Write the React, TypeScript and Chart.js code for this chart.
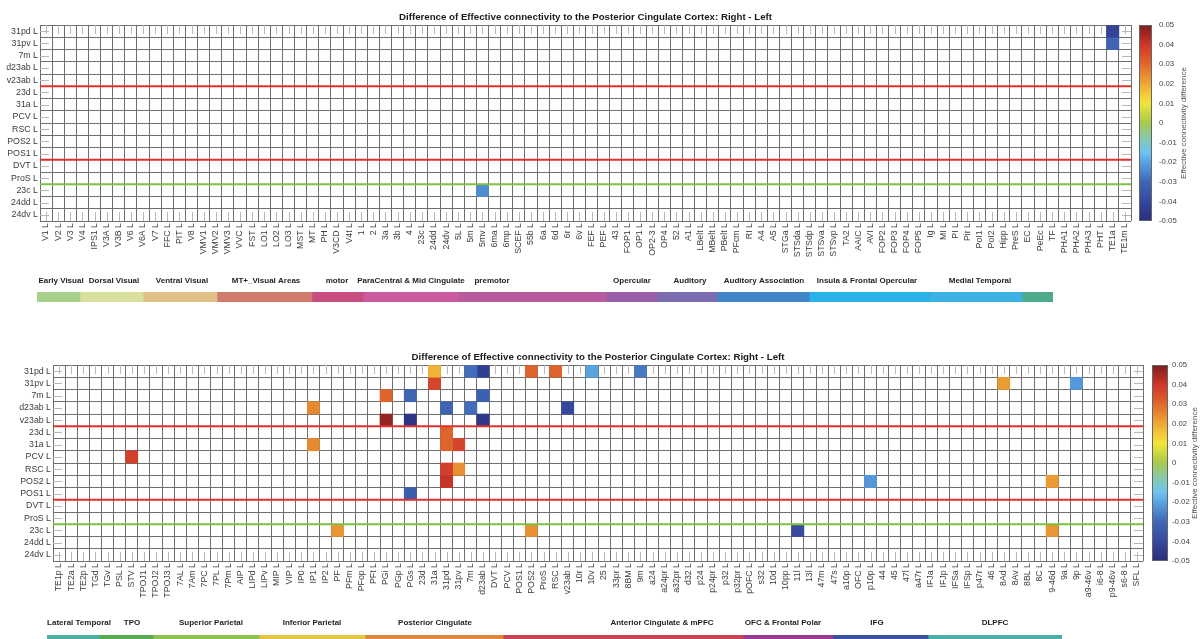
import React, { useEffect, useRef } from 'react';
import { Chart, registerables } from 'chart.js';

Chart.register(...registerables);

const FONT = '"Liberation Sans", Arial, Helvetica, sans-serif';

// ---------- data ----------
const rowRegions = ['31pd', '31pv', '7m', 'd23ab', 'v23ab', '23d', '31a', 'PCV', 'RSC', 'POS2', 'POS1', 'DVT', 'ProS', '23c', '24dd', '24dv'];

const topRegions = [
  'V1', 'V2', 'V3', 'V4', 'IPS1', 'V3A', 'V3B', 'V6', 'V6A', 'V7',
  'FFC', 'PIT', 'V8', 'VMV1', 'VMV2', 'VMV3', 'VVC', 'FST', 'LO1', 'LO2',
  'LO3', 'MST', 'MT', 'PH', 'V3CD', 'V4t', '1', '2', '3a', '3b',
  '4', '23c', '24dd', '24dv', '5L', '5m', '5mv', '6ma', '6mp', 'SCEF',
  '55b', '6a', '6d', '6r', '6v', 'FEF', 'PEF', '43', 'FOP1', 'OP1',
  'OP2-3', 'OP4', '52', 'A1', 'LBelt', 'MBelt', 'PBelt', 'PFcm', 'RI', 'A4',
  'A5', 'STGa', 'STSda', 'STSdp', 'STSva', 'STSvp', 'TA2', 'AAIC', 'AVI', 'FOP2',
  'FOP3', 'FOP4', 'FOP5', 'Ig', 'MI', 'PI', 'Pir', 'PoI1', 'PoI2', 'Hipp',
  'PreS', 'EC', 'PeEc', 'TF', 'PHA1', 'PHA2', 'PHA3', 'PHT', 'TE1a', 'TE1m',
];

const bottomRegions = [
  'TE1p', 'TE2a', 'TE2p', 'TGd', 'TGv', 'PSL', 'STV', 'TPOJ1', 'TPOJ2', 'TPOJ3',
  '7AL', '7Am', '7PC', '7PL', '7Pm', 'AIP', 'LIPd', 'LIPv', 'MIP', 'VIP',
  'IP0', 'IP1', 'IP2', 'PF', 'PFm', 'PFop', 'PFt', 'PGi', 'PGp', 'PGs',
  '23d', '31a', '31pd', '31pv', '7m', 'd23ab', 'DVT', 'PCV', 'POS1', 'POS2',
  'ProS', 'RSC', 'v23ab', '10r', '10v', '25', '33pr', '8BM', '9m', 'a24',
  'a24pr', 'a32pr', 'd32', 'p24', 'p24pr', 'p32', 'p32pr', 'pOFC', 's32', '10d',
  '10pp', '11l', '13l', '47m', '47s', 'a10p', 'OFC', 'p10p', '44', '45',
  '47l', 'a47r', 'IFJa', 'IFJp', 'IFSa', 'IFSp', 'p47r', '46', '8Ad', '8Av',
  '8BL', '8C', '9-46d', '9a', '9p', 'a9-46v', 'i6-8', 'p9-46v', 's6-8', 'SFL',
];

// [column region, row region, value]
const topCells: [string, string, number][] = [
  ['5mv', '23c', -0.024],
  ['TE1a', '31pd', -0.042],
  ['TE1a', '31pv', -0.031],
];

const bottomCells: [string, string, number][] = [
  ['STV', 'PCV', 0.038],
  ['IP1', 'd23ab', 0.025],
  ['IP1', '31a', 0.025],
  ['PF', '23c', 0.023],
  ['PGi', '7m', 0.031],
  ['PGi', 'v23ab', 0.047],
  ['PGs', '7m', -0.031],
  ['PGs', 'v23ab', -0.047],
  ['PGs', 'POS1', -0.033],
  ['31a', '31pd', 0.018],
  ['31a', '31pv', 0.037],
  ['31pd', 'd23ab', -0.031],
  ['31pd', '23d', 0.031],
  ['31pd', '31a', 0.031],
  ['31pd', 'RSC', 0.038],
  ['31pd', 'POS2', 0.041],
  ['31pv', '31a', 0.037],
  ['31pv', 'RSC', 0.024],
  ['7m', '31pd', -0.029],
  ['7m', 'd23ab', -0.029],
  ['d23ab', '31pd', -0.043],
  ['d23ab', '7m', -0.032],
  ['d23ab', 'v23ab', -0.046],
  ['POS2', '31pd', 0.031],
  ['POS2', '23c', 0.024],
  ['RSC', '31pd', 0.031],
  ['v23ab', 'd23ab', -0.040],
  ['10v', '31pd', -0.020],
  ['9m', '31pd', -0.027],
  ['8Ad', '31pv', 0.022],
  ['9p', '31pv', -0.022],
  ['p10p', 'POS2', -0.022],
  ['9-46d', 'POS2', 0.022],
  ['9-46d', '23c', 0.023],
  ['11l', '23c', -0.039],
];

const redDividerAfterRows = ['v23ab', 'POS1'];
const greenDividerAfterRows = ['ProS'];

const cbMin = -0.05;
const cbMax = 0.05;
const cbStep = 0.01;
const colorStops: [number, string][] = [
  [-0.05, '#2a2d7d'],
  [-0.04, '#36489d'],
  [-0.03, '#3f67b5'],
  [-0.02, '#5aa3e3'],
  [-0.015, '#6ec3ef'],
  [-0.01, '#7ec9c3'],
  [-0.005, '#92c98f'],
  [0, '#a7c94c'],
  [0.005, '#cbd83f'],
  [0.01, '#f2e53b'],
  [0.015, '#f4c73a'],
  [0.02, '#eea835'],
  [0.03, '#e0692d'],
  [0.04, '#cf3529'],
  [0.05, '#7b1e1f'],
];

const topGroups = ['Early Visual', 'Dorsal Visual', 'Ventral Visual', 'MT+_Visual Areas', 'motor', 'ParaCentral & Mid Cingulate', 'premotor', 'Opercular', 'Auditory', 'Auditory Association', 'Insula & Frontal Opercular', 'Medial Temporal', ''];
const topGroupWidths = [43, 63, 74, 95, 51, 95, 148, 51, 60, 92, 121, 92, 31];
const topGroupLabelPos = [24, 77, 145, 229, 300, 374, 455, 595, 653, 727, 830, 943, 1000];
const topGroupColors = ['#a8d08d', '#d9df9c', '#e0c089', '#d07b6c', '#c94d7f', '#cd5a9f', '#b95a9f', '#9a5ea9', '#7c6cb1', '#3f84c6', '#2ab0ea', '#3bb2e3', '#4dab8c'];

const bottomGroups = ['Lateral Temporal', 'TPO', 'Superior Parietal', 'Inferior Parietal', 'Posterior Cingulate', 'Anterior Cingulate & mPFC', 'OFC & Frontal Polar', 'IFG', 'DLPFC'];
const bottomGroupWidths = [52, 54, 106, 106, 138, 240, 90, 95, 134];
const bottomGroupLabelPos = [32, 85, 164, 265, 388, 615, 736, 830, 948];
const bottomGroupColors = ['#4bb0a0', '#5aaa55', '#8dc154', '#e2c845', '#da8a3e', '#c94456', '#9c3b92', '#3a51a2', '#4aaea6'];

const chartTitle = 'Difference of Effective connectivity to the Posterior Cingulate Cortex: Right - Left';
const colorbarTitle = 'Effective connectivity difference';

// ---------- helpers ----------
function hexToRgb(h: string) {
  const n = parseInt(h.slice(1), 16);
  return [(n >> 16) & 255, (n >> 8) & 255, n & 255];
}
function colorFor(v: number): string {
  const c = Math.max(cbMin, Math.min(cbMax, v));
  for (let i = 0; i < colorStops.length - 1; i++) {
    const [v0, c0] = colorStops[i];
    const [v1, c1] = colorStops[i + 1];
    if (c >= v0 && c <= v1) {
      const t = (c - v0) / (v1 - v0);
      const a = hexToRgb(c0), b = hexToRgb(c1);
      const m = a.map((x, k) => Math.round(x + (b[k] - x) * t));
      return `rgb(${m[0]},${m[1]},${m[2]})`;
    }
  }
  return colorStops[colorStops.length - 1][1];
}

const heatExtras = {
  id: 'heatExtras',
  beforeDatasetsDraw(chart: any) {
    const { ctx, chartArea: a, scales } = chart;
    const xs = scales.x, yl = scales.yl;
    const tl = 9;
    ctx.save();
    ctx.strokeStyle = '#b8b8b8';
    ctx.lineWidth = 1;
    ctx.beginPath();
    for (let i = 0; i < xs.ticks.length; i++) {
      const px = Math.round(xs.getPixelForTick(i)) + 0.5;
      ctx.moveTo(px, a.top); ctx.lineTo(px, a.top + tl);
      ctx.moveTo(px, a.bottom - tl); ctx.lineTo(px, a.bottom);
    }
    for (let i = 0; i < yl.ticks.length; i++) {
      const py = Math.round(yl.getPixelForTick(i)) + 0.5;
      ctx.moveTo(a.left, py); ctx.lineTo(a.left + tl, py);
      ctx.moveTo(a.right - tl, py); ctx.lineTo(a.right, py);
    }
    ctx.stroke();
    ctx.restore();
  },
  afterDraw(chart: any, _args: any, opts: any) {
    const { ctx, chartArea: a, scales } = chart;
    const y = scales.y;
    ctx.save();
    for (const d of opts.dividers || []) {
      const py = y.getPixelForValue(d.at);
      ctx.strokeStyle = d.color;
      ctx.lineWidth = 1.8;
      ctx.beginPath();
      ctx.moveTo(a.left, py);
      ctx.lineTo(a.right, py);
      ctx.stroke();
    }
    ctx.fillStyle = '#1a1a1a';
    ctx.font = `bold 9.7px ${FONT}`;
    ctx.textAlign = 'center';
    ctx.textBaseline = 'middle';
    ctx.fillText(opts.title, (a.left + a.right) / 2, a.top - 8);
    ctx.restore();
  },
};

function heatConfig(cols: string[], cells: [string, string, number][], labelWidth: number): any {
  const datasets = cells.map(([c, r, v]) => {
    const ci = cols.indexOf(c);
    const ri = rowRegions.indexOf(r);
    return {
      data: cols.map((_, i) => (i === ci ? [ri, ri + 1] : null)),
      backgroundColor: colorFor(v),
      borderWidth: 0,
      grouped: false,
      barPercentage: 1,
      categoryPercentage: 1,
    };
  });
  const dividers = [
    ...redDividerAfterRows.map((r) => ({ at: rowRegions.indexOf(r) + 1, color: '#e3302f' })),
    ...greenDividerAfterRows.map((r) => ({ at: rowRegions.indexOf(r) + 1, color: '#7dc142' })),
  ];
  const gridColor = '#6e6e6e';
  return {
    type: 'bar',
    data: { labels: cols.map((c) => c + ' L'), datasets },
    options: {
      responsive: false,
      maintainAspectRatio: false,
      animation: false,
      devicePixelRatio: 1,
      events: [],
      layout: { padding: { top: 25, right: 10, left: 0, bottom: 0 } },
      scales: {
        x: {
          type: 'category',
          offset: true,
          z: 1,
          grid: { offset: true, color: gridColor, lineWidth: 1, drawTicks: false },
          border: { display: false },
          ticks: {
            autoSkip: false, minRotation: 90, maxRotation: 90, padding: 2,
            color: '#3c3c3c', font: { family: FONT, size: 8.8 },
          },
          afterFit: (s: any) => { s.height = 39; },
        },
        y: {
          type: 'linear',
          min: 0,
          max: rowRegions.length,
          reverse: true,
          z: 1,
          ticks: { display: false, stepSize: 1 },
          grid: { color: gridColor, lineWidth: 1, drawTicks: false },
          border: { display: false },
          afterFit: (s: any) => { s.width = 0; },
        },
        yl: {
          type: 'category',
          axis: 'y',
          position: 'left',
          labels: rowRegions.map((r) => r + ' L'),
          offset: true,
          grid: { display: false, drawTicks: false },
          border: { display: false },
          ticks: { autoSkip: false, padding: 2, color: '#3c3c3c', font: { family: FONT, size: 8.8 } },
          afterFit: (s: any) => { s.width = labelWidth; },
        },
      },
      plugins: {
        legend: { display: false },
        tooltip: { enabled: false },
        heatExtras: { dividers, title: chartTitle },
      },
    },
    plugins: [heatExtras],
  };
}

const cbTitlePlugin = {
  id: 'cbTitle',
  afterDraw(chart: any, _args: any, opts: any) {
    const { ctx, chartArea: a } = chart;
    ctx.save();
    ctx.translate(a.right + opts.gap, (a.top + a.bottom) / 2);
    ctx.rotate(-Math.PI / 2);
    ctx.fillStyle = '#555';
    ctx.font = `8px ${FONT}`;
    ctx.textAlign = 'center';
    ctx.textBaseline = 'middle';
    ctx.fillText(opts.text, 0, 0);
    ctx.restore();
  },
};

function colorbarConfig(axisWidth: number, gap: number, labelPad: number): any {
  return {
    type: 'bar',
    data: {
      labels: [''],
      datasets: [{
        data: [[cbMin, cbMax]],
        backgroundColor: (c: any) => {
          const ch = c.chart;
          const a = ch.chartArea;
          if (!a) return '#fff';
          const g = ch.ctx.createLinearGradient(0, a.bottom, 0, a.top);
          colorStops.forEach(([v, col]) => g.addColorStop((v - cbMin) / (cbMax - cbMin), col));
          return g;
        },
        borderColor: '#666',
        borderWidth: 1,
        borderSkipped: false,
        inflateAmount: 0,
        barPercentage: 1,
        categoryPercentage: 1,
      }],
    },
    options: {
      responsive: false,
      maintainAspectRatio: false,
      animation: false,
      devicePixelRatio: 1,
      events: [],
      layout: { padding: { left: 4, top: 25, bottom: 39, right: 0 } },
      scales: {
        x: { display: false },
        y: {
          type: 'linear',
          position: 'right',
          min: cbMin,
          max: cbMax,
          ticks: { stepSize: cbStep, padding: labelPad, color: '#444', font: { family: FONT, size: 7.8 } },
          grid: { display: false, drawTicks: false },
          border: { display: false },
          afterFit: (s: any) => { s.width = axisWidth; },
        },
      },
      plugins: {
        legend: { display: false },
        tooltip: { enabled: false },
        cbTitle: { text: colorbarTitle, gap },
      },
    },
    plugins: [cbTitlePlugin],
  };
}

const stripLabels = {
  id: 'stripLabels',
  afterDraw(chart: any, _args: any, opts: any) {
    const { ctx, chartArea: a, scales } = chart;
    ctx.save();
    ctx.fillStyle = '#1e1e1e';
    ctx.font = `bold 8px ${FONT}`;
    ctx.textAlign = 'center';
    ctx.textBaseline = 'middle';
    opts.names.forEach((n: string, i: number) => {
      if (!n) return;
      ctx.fillText(n, scales.x.getPixelForValue(opts.pos[i]), a.top - opts.offset);
    });
    ctx.restore();
  },
};

function stripConfig(names: string[], widths: number[], colors: string[], pos: number[], pad: any, offset: number): any {
  let acc = 0;
  const datasets = widths.map((w, i) => {
    const s = acc;
    acc += w;
    return {
      data: [[s, acc]],
      backgroundColor: colors[i],
      borderWidth: 0,
      grouped: false,
      barPercentage: 1,
      categoryPercentage: 1,
    };
  });
  return {
    type: 'bar',
    data: { labels: ['groups'], datasets },
    options: {
      indexAxis: 'y',
      responsive: false,
      maintainAspectRatio: false,
      animation: false,
      devicePixelRatio: 1,
      events: [],
      layout: { padding: pad },
      scales: {
        x: { type: 'linear', min: 0, max: acc, display: false },
        y: { type: 'category', display: false, offset: true },
      },
      plugins: {
        legend: { display: false },
        tooltip: { enabled: false },
        stripLabels: { names, pos, offset },
      },
    },
    plugins: [stripLabels],
  };
}

export default function App() {
  const topHeat = useRef<HTMLCanvasElement>(null);
  const topCb = useRef<HTMLCanvasElement>(null);
  const topStrip = useRef<HTMLCanvasElement>(null);
  const botHeat = useRef<HTMLCanvasElement>(null);
  const botCb = useRef<HTMLCanvasElement>(null);
  const botStrip = useRef<HTMLCanvasElement>(null);

  useEffect(() => {
    const charts: Chart[] = [];
    charts.push(new Chart(topHeat.current!, heatConfig(topRegions, topCells, 40)));
    charts.push(new Chart(botHeat.current!, heatConfig(bottomRegions, bottomCells, 53)));
    charts.push(new Chart(topCb.current!, colorbarConfig(48, 32, 7)));
    charts.push(new Chart(botCb.current!, colorbarConfig(32, 27, 4)));
    charts.push(new Chart(topStrip.current!, stripConfig(topGroups, topGroupWidths, topGroupColors, topGroupLabelPos, { left: 37, right: 147, top: 32, bottom: 8 }, 11)));
    charts.push(new Chart(botStrip.current!, stripConfig(bottomGroups, bottomGroupWidths, bottomGroupColors, bottomGroupLabelPos, { left: 47, right: 138, top: 35, bottom: 0 }, 12)));
    return () => charts.forEach((c) => c.destroy());
  }, []);

  const abs = (left: number, top: number, w: number, h: number): React.CSSProperties => ({
    position: 'absolute', left, top, width: w, height: h,
  });

  return (
    <div style={{ position: 'fixed', left: 0, top: 0, width: 1200, height: 639, overflow: 'hidden', background: '#fff' }}>
      <canvas ref={topHeat} width={1141} height={260} style={abs(0, 0, 1141, 260)} />
      <canvas ref={topCb} width={65} height={260} style={abs(1135, 0, 65, 260)} />
      <canvas ref={topStrip} width={1200} height={50} style={abs(0, 260, 1200, 50)} />
      <canvas ref={botHeat} width={1153} height={260} style={abs(0, 340, 1153, 260)} />
      <canvas ref={botCb} width={52} height={260} style={abs(1148, 340, 52, 260)} />
      <canvas ref={botStrip} width={1200} height={39} style={abs(0, 600, 1200, 39)} />
    </div>
  );
}
